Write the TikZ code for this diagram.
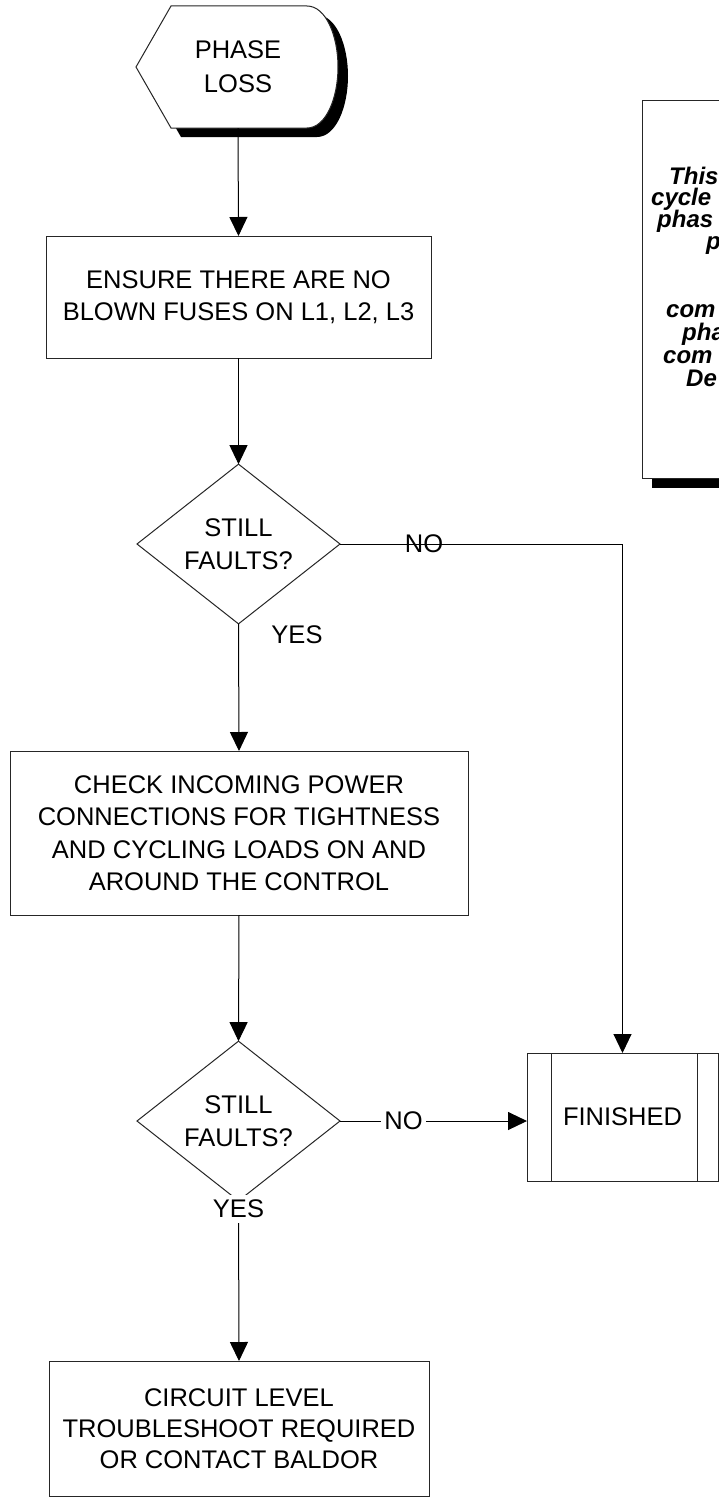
\documentclass[tikz,border=0pt]{standalone}
\usepackage{fontspec}
\setmainfont{Liberation Sans}
\usetikzlibrary{arrows.meta,shapes.geometric}
\begin{document}
\begin{tikzpicture}[x=1pt,y=-1pt,
  box/.style={draw=black!85, line width=1pt, fill=white, align=center, inner sep=0pt, outer sep=0pt, font=\fontsize{25.5}{32.5}\selectfont},
  dec/.style={shape=diamond, draw=black!85, line width=1pt, fill=white, align=center, inner sep=0pt, outer sep=0pt, minimum width=203pt, minimum height=134pt, font=\fontsize{25.5}{33}\selectfont},
  lbl/.style={font=\fontsize{25.5}{30}\selectfont, inner sep=0pt},
  wlbl/.style={lbl, fill=white, inner xsep=3pt, inner ysep=5pt},
  conn/.style={line width=1pt, -{Triangle[width=18pt,length=19pt]}},
  notetxt/.style={font=\fontsize{24}{24}\selectfont\bfseries\itshape, anchor=base west, inner sep=0pt}
]
\useasboundingbox (0,0) rectangle (719,1504);
\clip (0,0) rectangle (719,1504);
\fill[white] (0,0) rectangle (719,1504);

% start shape (display) with shadow
\begin{scope}[shift={(10,9)}]
  \fill[black] (171,6) -- (307,6) .. controls (326,6) and (338,36) .. (338,67) .. controls (338,98) and (326,128) .. (307,128) -- (171,128) -- (136,67) -- cycle;
\end{scope}
\draw[fill=white, draw=black!85, line width=1pt] (171,6) -- (307,6) .. controls (326,6) and (338,36) .. (338,67) .. controls (338,98) and (326,128) .. (307,128) -- (171,128) -- (136,67) -- cycle;
\node[lbl, align=center, font=\fontsize{25.5}{34}\selectfont, minimum height=122pt] (start) at (238,67) {PHASE\\LOSS};

% note box with shadow
\fill[black] (652,110) rectangle (810,488);
\node[draw=black!85, line width=1pt, fill=white, minimum width=158pt, minimum height=378pt, inner sep=0pt, anchor=north west] (note) at (642,100) {};
\node[notetxt] (n1) at (669,184) {This};
\node[notetxt] (n2) at (651,205.5) {cycle};
\node[notetxt] (n3) at (657,227) {phas};
\node[notetxt] (n4) at (706,249) {p};
\node[notetxt] (n5) at (666,317) {com};
\node[notetxt] (n6) at (682,340) {pha};
\node[notetxt] (n7) at (663,363) {com};
\node[notetxt] (n8) at (686,386) {De};

% process boxes and decisions
\node[box, minimum width=385pt, minimum height=122pt] (ensure) at (238.5,297) {ENSURE THERE ARE NO\\BLOWN FUSES ON L1, L2, L3};
\node[dec] (dec1) at (238.5,544) {STILL\\FAULTS?};
\node[box, minimum width=458pt, minimum height=164pt] (check) at (239,833) {CHECK INCOMING POWER\\CONNECTIONS FOR TIGHTNESS\\AND CYCLING LOADS ON AND\\AROUND THE CONTROL};
\node[dec] (dec2) at (238.5,1121) {STILL\\FAULTS?};
\node[box, minimum width=191pt, minimum height=128pt] (fin) at (622.5,1117) {FINISHED};
\draw[draw=black!85, line width=1pt] ([xshift=24pt]fin.north west) -- ([xshift=24pt]fin.south west);
\draw[draw=black!85, line width=1pt] ([xshift=-21pt]fin.north east) -- ([xshift=-21pt]fin.south east);
\node[box, minimum width=380pt, minimum height=135pt, font=\fontsize{25.5}{31}\selectfont] (circ) at (239,1428.5) {CIRCUIT LEVEL\\TROUBLESHOOT REQUIRED\\OR CONTACT BALDOR};

% connectors
\draw[conn] (start.south) -- (ensure.north);
\draw[conn] (ensure.south) -- (dec1.north);
\draw[conn] (dec1.south) -- (check.north);
\draw[conn] (dec1.east) -| (fin.north);
\node[lbl] (no1) at (424,544) {NO};
\node[lbl] (yes1) at (297,635) {YES};
\draw[conn] (check.south) -- (dec2.north);
\draw[conn] (dec2.east) -- (dec2.east -| fin.west);
\node[wlbl] (no2) at (403.5,1121) {NO};
\draw[conn] (dec2.south) -- (circ.north);
\node[wlbl] (yes2) at (238.5,1209) {YES};
\end{tikzpicture}
\end{document}
